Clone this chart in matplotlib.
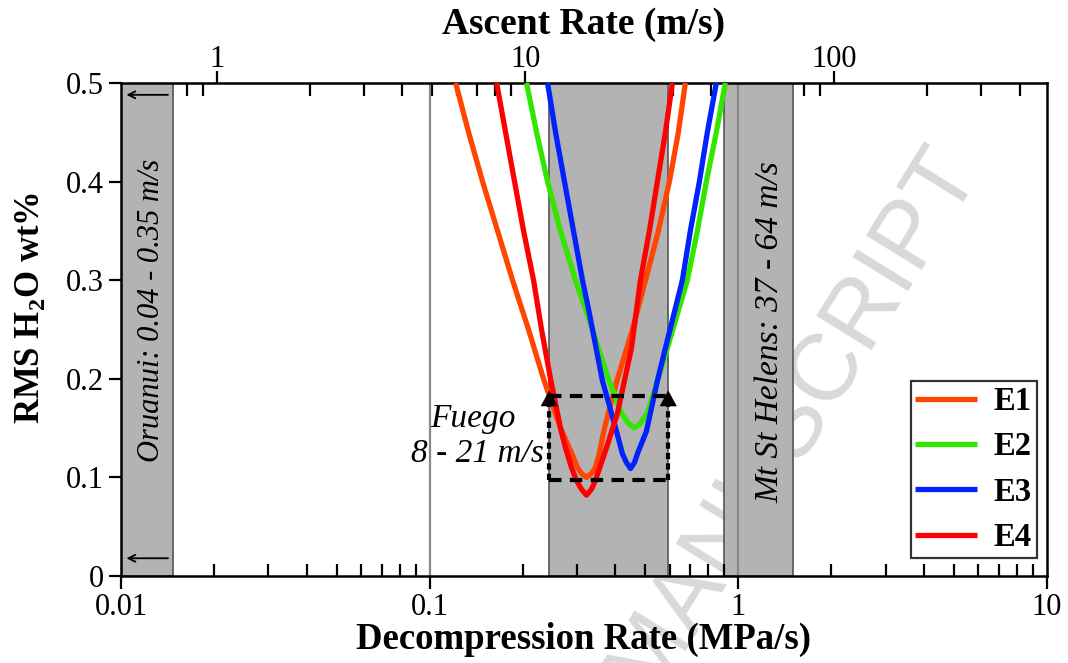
import matplotlib
matplotlib.use('Agg')
import matplotlib.pyplot as plt

plt.rcParams['font.family'] = ['Liberation Serif', 'DejaVu Serif']
plt.rcParams['mathtext.fontset'] = 'custom'
plt.rcParams['mathtext.rm'] = 'Liberation Serif:bold'
plt.rcParams['mathtext.bf'] = 'Liberation Serif:bold'

# RMS H2O misfit (wt%) against decompression rate (MPa/s)
e1_rate = [0.1214, 0.1337, 0.1484, 0.1660, 0.1856, 0.2091, 0.2338, 0.2654, 0.2881, 0.3012, 0.3104,
           0.3221, 0.3344, 0.3445, 0.3549, 0.3684, 0.4059, 0.4539, 0.5003, 0.5509, 0.5980, 0.6394, 0.6737]
e1_rms = [0.50, 0.45, 0.40, 0.35, 0.30, 0.25, 0.20, 0.15, 0.125, 0.11, 0.104,
          0.100, 0.104, 0.11, 0.125, 0.15, 0.20, 0.25, 0.30, 0.35, 0.40, 0.45, 0.50]

e2_rate = [0.2060, 0.2220, 0.2410, 0.2654, 0.2968, 0.3294, 0.3795, 0.4182, 0.4406, 0.4607,
           0.4818, 0.5078, 0.5468, 0.5891, 0.6838, 0.7368, 0.7879, 0.8487, 0.9077]
e2_rms = [0.50, 0.45, 0.40, 0.35, 0.30, 0.259, 0.20, 0.165, 0.155, 0.150,
          0.155, 0.165, 0.198, 0.231, 0.30, 0.35, 0.40, 0.45, 0.50]

e3_rate = [0.2410, 0.2558, 0.2734, 0.2924, 0.3127, 0.3294, 0.3629, 0.4029, 0.4213, 0.4341, 0.4472,
           0.4607, 0.4712, 0.5040, 0.5468, 0.5804, 0.6588, 0.6992, 0.7479, 0.7938, 0.8487]
e3_rms = [0.50, 0.45, 0.40, 0.35, 0.30, 0.266, 0.198, 0.147, 0.124, 0.115, 0.109,
          0.115, 0.124, 0.147, 0.198, 0.231, 0.30, 0.35, 0.40, 0.45, 0.50]

e4_rate = [0.1648, 0.1762, 0.1884, 0.2015, 0.2171, 0.2304, 0.2464, 0.2654, 0.2755, 0.2881, 0.2990, 0.3104,
           0.3221, 0.3344, 0.3445, 0.3739, 0.4059, 0.4505, 0.4818, 0.5152, 0.5468, 0.5804, 0.6115]
e4_rms = [0.50, 0.45, 0.40, 0.35, 0.30, 0.25, 0.20, 0.15, 0.13, 0.11, 0.097, 0.088,
          0.082, 0.088, 0.097, 0.13, 0.165, 0.231, 0.30, 0.35, 0.40, 0.45, 0.50]

series = [('E1', e1_rate, e1_rms, '#ff4500'),
          ('E2', e2_rate, e2_rms, '#33e600'),
          ('E3', e3_rate, e3_rms, '#0022ff'),
          ('E4', e4_rate, e4_rms, '#ff0000')]

# natural ranges (decompression rate, MPa/s)
oruanui = (0.01, 0.0147)
fuego = (0.244, 0.593)
msh = (0.902, 1.507)
fuego_rms = (0.097, 0.183)
ref_lines = [0.1, 1.0]
ascent_factor = 49.0  # m/s per MPa/s

fig = plt.figure(figsize=(10.68, 6.63), dpi=100)
ax = fig.add_axes([0.1133, 0.1312, 0.867, 0.7436])
ax.set_xscale('log')
ax.set_xlim(0.01, 10)
ax.set_ylim(0, 0.5)

for lo, hi in (oruanui, fuego, msh):
    ax.axvspan(lo, hi, facecolor='#b3b3b3', edgecolor='#555555', lw=1.2, zorder=1)
for xv in ref_lines:
    ax.axvline(xv, color='#888888', lw=1.6, zorder=1.2)

for name, r, v, c in series:
    ax.plot(r, v, color=c, lw=3.8, label=name, zorder=3,
            solid_joinstyle='round', solid_capstyle='butt')

# Fuego box
ax.plot([fuego[0], fuego[1]], [fuego_rms[1]] * 2, color='k', lw=3, ls=(0, (3, 2)), zorder=4)
ax.plot([fuego[0], fuego[1]], [fuego_rms[0]] * 2, color='k', lw=3, ls=(0, (3, 2)), zorder=4)
for xv in fuego:
    ax.plot([xv, xv], [fuego_rms[0], fuego_rms[1]], color='k', lw=3, ls=(0, (1.5, 1)), zorder=4)
    ax.annotate('', xy=(xv, fuego_rms[1] + 0.008), xytext=(xv, fuego_rms[1] - 0.01),
                arrowprops=dict(arrowstyle='-|>,head_length=0.7,head_width=0.38',
                                color='k', lw=0.1, mutation_scale=16), zorder=5)

for yv in (0.488, 0.018):
    ax.annotate('', xy=(0.0102, yv), xytext=(0.0145, yv),
                arrowprops=dict(arrowstyle='->,head_length=0.5,head_width=0.25',
                                color='k', lw=1.3), zorder=5)

ax.text(0.0126, 0.269, 'Oruanui: 0.04 - 0.35 m/s', rotation=90, style='italic',
        fontsize=22, ha='center', va='center', zorder=5)
ax.text(1.27, 0.247, 'Mt St Helens: 37 - 64 m/s', rotation=90, style='italic',
        fontsize=24, ha='center', va='center', zorder=5)
ax.text(0.1378, 0.160, 'Fuego', style='italic', fontsize=24,
        ha='center', va='center', zorder=5)
ax.text(0.1425, 0.124, '8 - 21 m/s', style='italic', fontsize=24,
        ha='center', va='center', zorder=5)

# watermark, sits under the shaded bands
ax.text(961 / 1068, 1 - 160 / 663, 'ACCEPTED MANUSCRIPT', transform=fig.transFigure,
        family='Liberation Sans', fontsize=68, color='#d9d9d9', rotation=58.3,
        rotation_mode='anchor', ha='right', va='center', zorder=0.5, clip_on=False)

ax.set_xticks([0.01, 0.1, 1, 10])
ax.set_xticklabels(['0.01', '0.1', '1', '10'])
ax.set_yticks([0, 0.1, 0.2, 0.3, 0.4, 0.5])
ax.set_yticklabels(['0', '0.1', '0.2', '0.3', '0.4', '0.5'])
ax.tick_params(axis='both', which='major', direction='out', length=9, width=1.6,
               labelsize=22, pad=3)
ax.tick_params(axis='x', which='minor', direction='in', length=9, width=1.6)
ax.tick_params(axis='y', which='minor', left=False)
for s in ax.spines.values():
    s.set_linewidth(1.8)

ax.set_xlabel('Decompression Rate (MPa/s)', fontsize=26.5, fontweight='bold', labelpad=0)
ax.set_ylabel(r'RMS H$_\mathbf{2}$O wt%', fontsize=25, fontweight='bold')
ax.yaxis.set_label_coords(-0.080, 0.544)

top = ax.secondary_xaxis('top', functions=(lambda x: x * ascent_factor,
                                            lambda x: x / ascent_factor))
top.set_xticks([1, 10, 100])
top.set_xticklabels(['1', '10', '100'])
top.tick_params(axis='x', which='major', direction='out', length=9, width=1.6,
                labelsize=22, pad=-2.5)
top.tick_params(axis='x', which='minor', direction='in', length=9, width=1.6)
top.set_xlabel('Ascent Rate (m/s)', fontsize=27, fontweight='bold', labelpad=8)

leg = ax.legend(loc='lower right', bbox_to_anchor=(0.989, 0.0365),
                prop={'weight': 'bold', 'size': 23.5}, frameon=True, fancybox=False,
                handlelength=1.9, labelspacing=0.44, borderpad=0.15,
                handletextpad=0.5, borderaxespad=0)
leg.get_frame().set_edgecolor('black')
leg.get_frame().set_linewidth(1.6)
leg.set_zorder(6)

fig.savefig('out.png', dpi=100)
